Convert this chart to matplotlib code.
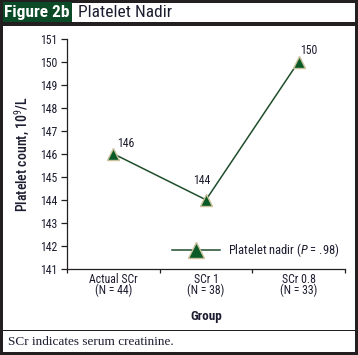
import matplotlib
matplotlib.use("Agg")
import matplotlib.pyplot as plt
from matplotlib.patches import Rectangle
from matplotlib.lines import Line2D

groups = ["Actual SCr", "SCr 1", "SCr 0.8"]
group_n = [44, 38, 33]
platelet_nadir = [146, 144, 150]
y_ticks = [141, 142, 143, 144, 145, 146, 147, 148, 149, 150, 151]
p_value = ".98"

W, H = 358, 355
FONT = 'Roboto Condensed'
plt.rcParams['font.family'] = [FONT, 'DejaVu Sans']
plt.rcParams['mathtext.fontset'] = 'custom'
plt.rcParams['mathtext.rm'] = FONT
plt.rcParams['mathtext.it'] = FONT + ':italic'
plt.rcParams['mathtext.bf'] = FONT

TXT = '#1c1c30'
DARK = '#231f20'
GREEN = '#0b4a26'
LINE = '#1f4e2c'
MFACE = '#0a5a28'
MEDGE = '#c9c19a'

fig = plt.figure(figsize=(W / 100, H / 100), dpi=100)
fig.patch.set_facecolor('white')

def fx(x):
    return x / W

def fy(y):
    return 1 - y / H

def rect(x0, y0, x1, y1, color):
    fig.patches.append(Rectangle((fx(x0), fy(y1)), fx(x1) - fx(x0), fy(y0) - fy(y1),
                                 transform=fig.transFigure, facecolor=color,
                                 edgecolor='none', zorder=5))

# borders
rect(0, 0, W, 2.5, DARK)
rect(0, H - 3, W, H, DARK)
rect(0, 0, 2.5, H, DARK)
rect(W - 3, 0, W, H, DARK)
rect(0, 22, W, 25.5, DARK)
rect(0, 329.5, W, 331, DARK)
# header
rect(2.5, 2.5, 72, 22, GREEN)
fig.text(fx(37), fy(12.5), "Figure 2b", color='white', fontsize=12.5, fontweight='bold',
         ha='center', va='center', zorder=6)
fig.text(fx(78), fy(12.5), "Platelet Nadir", color=TXT, fontsize=12.5,
         ha='left', va='center', zorder=6)
fig.text(fx(8), fy(342), "SCr indicates serum creatinine.", color=TXT, fontsize=9.5,
         family='Liberation Serif', ha='left', va='center')

ax = fig.add_axes([fx(67), fy(269), fx(345) - fx(67), fy(38.5) - fy(269)])
x = list(range(len(groups)))
ax.plot(x, platelet_nadir, color=LINE, lw=1.1, marker='^', markersize=8,
        markerfacecolor=MFACE, markeredgecolor=MEDGE, markeredgewidth=1.0, zorder=3)

offsets = [(3, 3, 'left', 'bottom'), (-3, 9, 'center', 'bottom'), (1, 3, 'left', 'bottom')]
for xi, v, (dx, dy, ha, va) in zip(x, platelet_nadir, offsets):
    ax.annotate(str(v), (xi, v), xytext=(dx, dy), textcoords='offset points',
                ha=ha, va=va, fontsize=8.5, color=TXT)

ax.set_xlim(-0.5, len(groups) - 0.5)
ax.set_ylim(y_ticks[0], y_ticks[-1])
ax.set_yticks(y_ticks)
ax.set_yticklabels([str(t) for t in y_ticks])
ax.set_xticks([i - 0.5 for i in range(len(groups) + 1)])
ax.set_xticklabels([])
ax.set_xticks(x, minor=True)
ax.set_xticklabels([f"{g}\n(N = {n})" for g, n in zip(groups, group_n)], minor=True,
                   linespacing=0.8)
ax.tick_params(axis='x', which='major', direction='out', length=3, width=0.9, color=DARK)
ax.tick_params(axis='x', which='minor', length=0, pad=3, labelsize=8.5, labelcolor=TXT)
ax.tick_params(axis='y', direction='out', length=4, width=0.9, color=DARK,
               labelsize=8.5, labelcolor=TXT, pad=3)
for s in ['top', 'right']:
    ax.spines[s].set_visible(False)
for s in ['left', 'bottom']:
    ax.spines[s].set_color(DARK)
    ax.spines[s].set_linewidth(0.9)

ax.set_xlabel("Group", fontsize=9.5, color=TXT, fontweight='bold', labelpad=9)
ax.set_ylabel(r"Platelet count, 10$^{9}$/L", fontsize=10, color=TXT,
              fontweight='medium', labelpad=6)

handle = Line2D([], [], color=LINE, lw=1.1, marker='^', markersize=11,
                markerfacecolor=MFACE, markeredgecolor=MEDGE, markeredgewidth=1.0)
leg = ax.legend([handle], [r"Platelet nadir ($\mathit{P}$ = " + p_value + ")"],
                loc='lower right', bbox_to_anchor=(1.0, 0.02), frameon=False,
                fontsize=9, handlelength=3.8, handletextpad=0.7, borderaxespad=0)
for t in leg.get_texts():
    t.set_color(TXT)

fig.savefig("out.png", dpi=100, facecolor='white')
